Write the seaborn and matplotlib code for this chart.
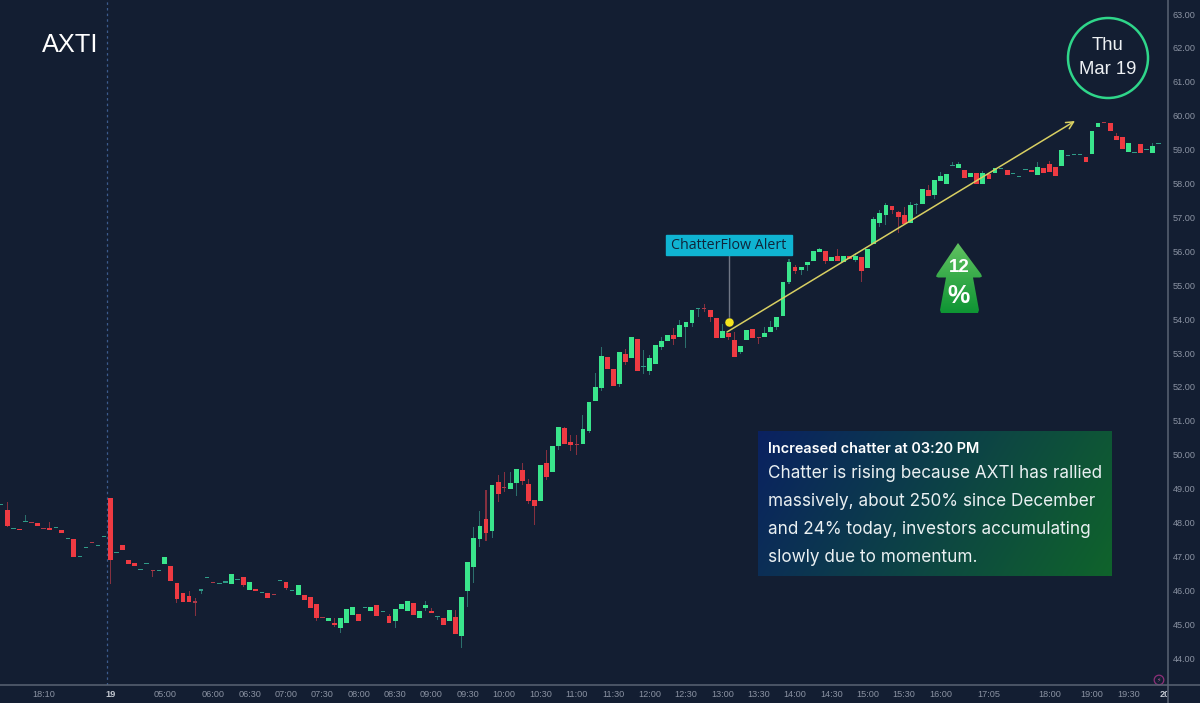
import numpy as np
import pandas as pd
import seaborn as sns
import matplotlib.pyplot as plt
from matplotlib.patches import Circle, Polygon, Rectangle
from matplotlib.transforms import Bbox, IdentityTransform, TransformedBbox

BG = '#131e32'
GREEN = '#3ae58c'
RED = '#ee3a42'
GREEN_DASH = '#2f9c88'
RED_DASH = '#b03a48'
GREEN_WICK = '#2b6f6c'
RED_WICK = '#86303f'
AXIS_TEXT = '#8a92a2'
AXIS_LINE = '#5a6474'

opens = [
    48.52, 48.37, 47.81, 47.82, 48.01, 48.01, 47.99, 47.83, 47.83, 47.83, 47.78, 47.51, 47.50, 46.99, 47.26, 47.41,
    47.32, 47.58, 48.72, 47.09, 47.33, 46.90, 46.80, 46.59, 46.77, 46.60, 46.58, 46.77, 46.71, 46.21, 45.91, 45.83,
    45.66, 45.99, 46.35, 46.24, 46.18, 46.23, 46.18, 46.31, 46.39, 46.01, 46.05, 45.91, 45.93, 45.87, 46.26, 46.25,
    45.98, 45.87, 45.86, 45.80, 45.59, 45.21, 45.09, 45.05, 44.89, 45.05, 45.28, 45.30, 45.48, 45.40, 45.58, 45.36,
    45.25, 45.08, 45.44, 45.40, 45.64, 45.19, 45.49, 45.38, 45.20, 45.18, 45.10, 45.20, 44.65, 45.98, 46.70, 47.50,
    48.11, 47.75, 49.19, 49.03, 48.98, 49.16, 49.56, 49.13, 48.67, 48.62, 49.75, 49.48, 50.25, 50.79, 50.38, 50.30,
    50.33, 50.71, 51.57, 51.98, 52.89, 52.54, 52.09, 52.98, 52.84, 53.40, 52.59, 52.48, 52.68, 53.17, 53.34, 53.54,
    53.48, 53.78, 53.89, 54.30, 54.33, 54.27, 54.04, 53.43, 53.59, 53.39, 53.04, 53.37, 53.70, 53.47, 53.47, 53.62,
    53.78, 54.10, 55.10, 55.53, 55.45, 55.60, 55.72, 55.98, 56.02, 55.72, 55.86, 55.69, 55.87, 55.74, 55.84, 55.50,
    56.22, 56.84, 57.07, 57.34, 57.17, 57.08, 56.84, 57.37, 57.40, 57.82, 57.67, 58.08, 57.99, 58.51, 58.45, 58.39,
    58.19, 58.30, 58.00, 58.28, 58.30, 58.44, 58.40, 58.28, 58.20, 58.40, 58.39, 58.24, 58.47, 58.57, 58.49, 58.51,
    58.82, 58.85, 58.85, 58.79, 58.86, 59.66, 59.81, 59.79, 59.39, 59.38, 58.93, 58.91, 59.17, 58.99, 58.90, 59.17,
]
closes = [
    48.53, 47.90, 47.83, 47.77, 48.03, 47.99, 47.90, 47.81, 47.78, 47.85, 47.69, 47.53, 46.98, 47.01, 47.28, 47.39,
    47.34, 47.60, 46.90, 47.11, 47.19, 46.79, 46.71, 46.61, 46.79, 46.58, 46.60, 46.99, 46.28, 45.74, 45.65, 45.65,
    45.64, 46.03, 46.37, 46.22, 46.20, 46.25, 46.49, 46.33, 46.16, 46.25, 45.99, 45.93, 45.76, 45.85, 46.28, 46.08,
    46.00, 46.17, 45.71, 45.48, 45.18, 45.19, 45.19, 44.98, 45.17, 45.46, 45.50, 45.09, 45.50, 45.50, 45.24, 45.38,
    45.04, 45.46, 45.60, 45.69, 45.26, 45.38, 45.58, 45.33, 45.22, 44.99, 45.43, 44.72, 45.80, 46.83, 47.55, 47.90,
    47.70, 49.10, 48.85, 49.01, 49.16, 49.57, 49.22, 48.64, 48.50, 49.71, 49.35, 50.26, 50.82, 50.33, 50.30, 50.28,
    50.77, 51.54, 51.99, 52.92, 52.53, 52.02, 53.03, 52.74, 53.48, 52.48, 52.61, 52.84, 53.24, 53.36, 53.53, 53.40,
    53.82, 53.91, 54.27, 54.32, 54.31, 54.05, 53.45, 53.64, 53.48, 52.89, 53.21, 53.68, 53.45, 53.43, 53.60, 53.77,
    54.05, 55.08, 55.68, 55.43, 55.55, 55.69, 56.02, 56.08, 55.70, 55.83, 55.72, 55.85, 55.78, 55.87, 55.43, 56.08,
    56.94, 57.14, 57.36, 57.22, 57.02, 56.82, 57.36, 57.39, 57.84, 57.63, 58.10, 58.23, 58.28, 58.53, 58.58, 58.16,
    58.32, 58.00, 58.30, 58.12, 58.46, 58.46, 58.24, 58.30, 58.22, 58.42, 58.33, 58.48, 58.31, 58.35, 58.21, 58.98,
    58.84, 58.87, 58.87, 58.64, 59.56, 59.79, 59.79, 59.54, 59.29, 59.03, 59.18, 58.93, 58.90, 59.01, 59.10, 59.19,
]
# wick ends, only where a wick is visible
wick_highs = {
    1: 48.59, 4: 48.22, 8: 48.02, 31: 45.99, 32: 45.76, 55: 45.17, 64: 45.29, 70: 45.69, 71: 45.47, 75: 45.42,
    78: 47.86, 79: 48.35, 80: 48.96, 82: 49.40, 83: 49.50, 84: 49.50, 86: 49.75, 87: 49.28, 90: 50.14, 93: 50.83,
    94: 50.58, 95: 50.58, 96: 51.17, 98: 52.42, 99: 53.19, 103: 53.11, 106: 53.09, 107: 52.95, 109: 53.48,
    111: 53.73, 112: 53.97, 115: 54.33, 116: 54.45, 119: 53.85, 121: 53.63, 126: 53.78, 127: 53.95, 130: 55.76,
    131: 55.60, 135: 56.09, 138: 56.06, 141: 55.96, 144: 57.00, 145: 57.22, 146: 57.42, 148: 57.20, 149: 57.32,
    150: 57.44, 151: 57.42, 153: 57.95, 155: 58.33, 157: 58.64, 158: 58.64, 162: 58.36, 171: 58.64, 173: 58.65,
    184: 59.48, 190: 59.18,
}
wick_lows = {
    1: 47.88, 18: 46.20, 25: 46.40, 29: 45.62, 32: 45.25, 33: 45.89, 40: 46.11, 47: 46.00, 52: 45.10, 55: 44.91,
    56: 44.73, 65: 44.89, 70: 45.40, 72: 45.12, 76: 44.31, 77: 45.50, 78: 46.21, 79: 47.27, 80: 47.45, 81: 47.55,
    82: 48.59, 83: 48.91, 85: 48.78, 86: 49.10, 87: 48.55, 88: 47.93, 90: 49.25, 92: 50.14, 94: 50.12, 95: 49.99,
    97: 50.63, 99: 51.89, 102: 52.00, 103: 52.65, 106: 52.38, 107: 52.35, 109: 53.09, 111: 53.24, 113: 53.14,
    114: 53.76, 115: 54.05, 116: 54.22, 117: 53.92, 120: 53.38, 122: 52.97, 125: 53.28, 128: 53.68, 130: 55.04,
    131: 55.33, 132: 55.30, 133: 55.41, 136: 55.63, 141: 55.67, 142: 55.10, 145: 56.73, 146: 56.77, 147: 57.10,
    148: 56.53, 151: 57.10, 154: 57.53,
}

price_ticks = list(range(44, 64))
time_ticks = [7, 18, 27, 35, 41, 47, 53, 59, 65, 71, 77, 83, 89, 95, 101, 107, 113, 119, 125, 131, 137, 143, 149, 155,
              163, 173, 180, 186, 192]
time_labels = ['18:10', '19', '05:00', '06:00', '06:30', '07:00', '07:30', '08:00', '08:30', '09:00', '09:30', '10:00',
               '10:30', '11:00', '11:30', '12:00', '12:30', '13:00', '13:30', '14:00', '14:30', '15:00', '15:30',
               '16:00', '17:05', '18:00', '19:00', '19:30', '20']
note_title = 'Increased chatter at 03:20 PM'
note_lines = ['Chatter is rising because AXTI has rallied',
              'massively, about 250% since December',
              'and 24% today, investors accumulating',
              'slowly due to momentum.']


def build_candles():
    df = pd.DataFrame({'open': opens, 'close': closes})
    df['bar'] = df.index
    body_top = df[['open', 'close']].max(axis=1)
    body_low = df[['open', 'close']].min(axis=1)
    df['high'] = pd.Series(wick_highs).reindex(df.index).fillna(body_top)
    df['low'] = pd.Series(wick_lows).reindex(df.index).fillna(body_low)
    df['up'] = df['close'] >= df['open']
    df['thin'] = (df['close'] - df['open']).abs() < 0.04
    df['body_bottom'] = body_low
    df['body_height'] = (body_top - body_low).clip(lower=0.03)
    df['wick_height'] = df['high'] - df['low']
    return df


def _draw_bars(ax, df, height, bottom, color, width):
    # width is relative to the smallest gap between the bars of this group
    step = df['bar'].diff().min()
    sns.barplot(data=df, x='bar', y=height, bottom=df[bottom].values, native_scale=True, color=color,
                width=width / step, saturation=1, errorbar=None, linewidth=0, ax=ax)


def draw_candles(ax, df):
    ax.axvline(17.5, color='#3c5c8e', lw=0.9, ls=(0, (2, 2.5)), zorder=0)
    for up, wick_color in [(True, GREEN_WICK), (False, RED_WICK)]:
        _draw_bars(ax, df[df['up'] == up], 'wick_height', 'low', wick_color, 0.17)
    _draw_bars(ax, df[df['up'] & ~df['thin']], 'body_height', 'body_bottom', GREEN, 0.8)
    _draw_bars(ax, df[~df['up'] & ~df['thin']], 'body_height', 'body_bottom', RED, 0.8)
    _draw_bars(ax, df[df['up'] & df['thin']], 'body_height', 'body_bottom', GREEN_DASH, 0.72)
    _draw_bars(ax, df[~df['up'] & df['thin']], 'body_height', 'body_bottom', RED_DASH, 0.72)


def style_axes(ax):
    ax.set_xlim(-1.2 / 6.06, (1167 - 1.2) / 6.06)
    ax.set_ylim(63 - 671 / 33.9, 63 + 14 / 33.9)
    ax.set_xlabel('')
    ax.set_ylabel('')
    ax.grid(False)
    ax.yaxis.tick_right()
    ax.set_yticks(price_ticks, [f'{p:.2f}' for p in price_ticks])
    ax.set_xticks(time_ticks, time_labels)
    ax.tick_params(axis='both', length=0, labelsize=6.6, labelcolor=AXIS_TEXT)
    ax.tick_params(axis='y', pad=4.3)
    ax.tick_params(axis='x', pad=3.5)
    for side in ax.spines:
        ax.spines[side].set_visible(False)
    for label in ax.get_xticklabels():
        if label.get_text() in ('19', '20'):
            label.set_fontweight('bold')
            label.set_color('#c4c9d2')
        if label.get_text() == '20':
            label.set_clip_on(True)
            label.set_clip_box(TransformedBbox(Bbox([[0, 0], [1167, 703]]), IdentityTransform()))


def draw_overlay(fig):
    # annotations sit on a full-figure axes measured in image pixels
    ov = fig.add_axes([0, 0, 1, 1], facecolor='none')
    ov.set_axis_off()

    # axis rules run through to the image edges
    ov.plot([0, 1200], [685, 685], color=AXIS_LINE, lw=1.1)
    ov.plot([1167.5, 1167.5], [0, 703], color=AXIS_LINE, lw=1.1)

    ov.text(42, 44.5, 'AXTI', color='white', fontsize=18.3, va='center', ha='left')

    ov.add_patch(Circle((1108, 58), 40, fill=False, ec='#2fd68a', lw=1.8))
    ov.text(1108, 46, 'Thu', color='#eef1f4', fontsize=13.3, ha='center', va='center')
    ov.text(1108, 69, 'Mar 19', color='#eef1f4', fontsize=13.3, ha='center', va='center')

    ov.plot([728.7, 728.7], [255, 318], color='#6f7786', lw=1)
    ov.scatter([728.7], [322], s=42, color='#f4e41e', edgecolor='#131e32', linewidth=0.3, zorder=5)
    ov.add_patch(Rectangle((665.5, 235), 126.5, 19.5, color='#0fb4d2', zorder=4))
    ov.text(728.7, 245.5, 'ChatterFlow Alert', color='#10253a', fontsize=10.3, ha='center', va='center',
            family='Open Sans', zorder=5)
    ov.annotate('', xy=(1075, 121), xytext=(727, 332),
                arrowprops=dict(arrowstyle='->', color='#d8cf62', lw=1.1, mutation_scale=13, shrinkA=0, shrinkB=0))

    # green up arrow
    top = np.array([0.38, 0.76, 0.38])
    bottom = np.array([0.05, 0.58, 0.20])
    shade = np.linspace(0, 1, 80)[:, None, None]
    grad = (1 - shade) * top[None, None, :] + shade * bottom[None, None, :]
    im = ov.imshow(grad, extent=(930, 990, 314, 243), aspect='auto', zorder=3)
    shape = Polygon([(958, 243), (981, 274), (982, 276.5), (980, 277.5), (973, 277.5), (979, 310), (978, 313),
                     (941, 313), (940, 310), (946, 277.5), (938, 277.5), (936, 276.5), (937, 274)],
                    closed=True, transform=ov.transData, fc='none', ec='none')
    ov.add_patch(shape)
    im.set_clip_path(shape)
    ov.text(959, 267, '12', color='white', fontsize=13.5, fontweight='bold', ha='center', va='center', zorder=4)
    ov.text(959, 296, '%', color='white', fontsize=18, fontweight='bold', ha='center', va='center', zorder=4)

    # note box, blue to green
    xx, yy = np.meshgrid(np.linspace(0, 1, 200), np.linspace(0, 1, 80))
    t = (0.8 * xx + 0.2 * yy)[:, :, None]
    left = np.array([0.04, 0.13, 0.38])
    right = np.array([0.06, 0.39, 0.17])
    ov.imshow((1 - t) * left + t * right, extent=(758, 1112, 576, 431), aspect='auto', zorder=2)
    ov.text(768, 449, note_title, color='white', fontsize=10.4, fontweight='semibold', family='Inter', va='center',
            zorder=4)
    for y, line in zip([474, 501.5, 529, 557], note_lines):
        ov.text(768, y, line, color='#eaf0f2', fontsize=12.35, family='Inter', va='center', zorder=4)

    # small lightning badge, bottom right
    ov.add_patch(Circle((1159, 680), 4.8, fill=False, ec='#8e2f78', lw=0.9))
    ov.text(1159, 680, '\u26a1', color='#b0558f', fontsize=4.5, ha='center', va='center', family='DejaVu Sans')

    ov.set_xlim(0, 1200)
    ov.set_ylim(703, 0)


def main():
    sns.set_theme(style='dark', rc={'axes.facecolor': BG, 'figure.facecolor': BG, 'savefig.facecolor': BG})
    plt.rcParams['font.family'] = ['Liberation Sans', 'DejaVu Sans']

    fig = plt.figure(figsize=(12, 7.03), dpi=100)
    ax = fig.add_axes([0, 18 / 703, 1167 / 1200, 685 / 703])

    df = build_candles()
    draw_candles(ax, df)
    style_axes(ax)
    draw_overlay(fig)

    fig.savefig('out.png', dpi=100)


main()
